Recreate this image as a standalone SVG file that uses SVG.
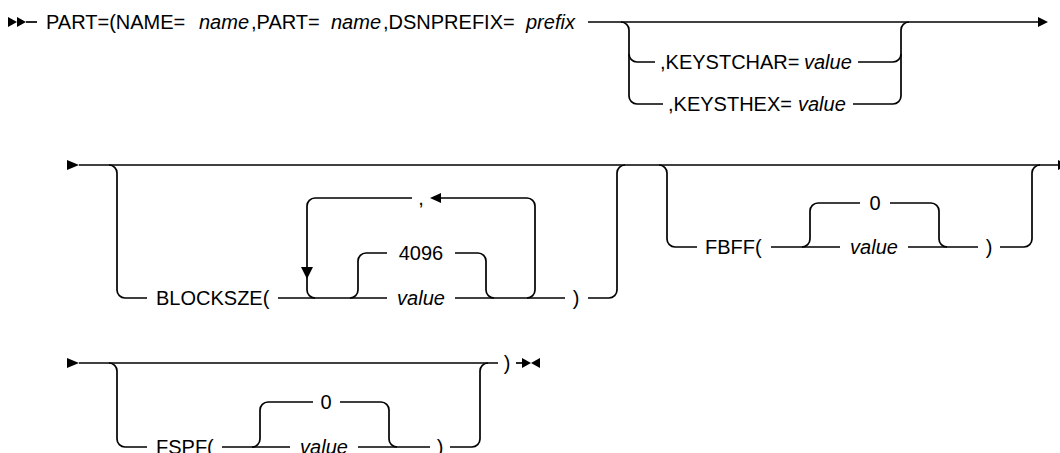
<svg xmlns="http://www.w3.org/2000/svg" width="1060" height="453" viewBox="0 0 1060 453">
<style>
.t{font-family:"Liberation Sans",Arial,sans-serif;font-size:20px;fill:#000}
.v{font-style:italic}
.m{text-anchor:middle}
.l{fill:none;stroke:#000;stroke-width:1.7}
.a{fill:#000}
</style>
<rect width="1060" height="453" fill="#fff"/>
<g id="connectors">
<polygon class="a" points="8,17 8,27 17,22"/>
<polygon class="a" points="17,17 17,27 26,22"/>
<path class="l" d="M26,22 H37"/>
<path class="l" d="M588,22 H1040"/>
<polygon class="a" points="1038,17 1048,22 1038,27"/>
<path class="l" d="M621,22 A8,8 0 0 1 629,30 V96 A8,8 0 0 0 637,104 H663"/>
<path class="l" d="M629,54 A8,8 0 0 0 637,62 H655"/>
<path class="l" d="M858,62 H893 A8,8 0 0 0 901,54 V30 A8,8 0 0 1 909,22"/>
<path class="l" d="M853,104 H893 A8,8 0 0 0 901,96 V54"/>
<polygon class="a" points="67,160 67,170 79,165"/>
<path class="l" d="M79,165 H1058"/>
<polygon class="a" points="1058,160 1058,170 1068,165"/>
<path class="l" d="M109,165 A8,8 0 0 1 117,173 V290 A8,8 0 0 0 125,298 H147"/>
<path class="l" d="M278,298 H387"/>
<path class="l" d="M455,298 H565"/>
<path class="l" d="M350,298 A8,8 0 0 0 358,290 V261 A8,8 0 0 1 366,253 H387"/>
<path class="l" d="M455,253 H478 A8,8 0 0 1 486,261 V290 A8,8 0 0 0 494,298"/>
<path class="l" d="M527,298 A8,8 0 0 0 535,290 V206 A8,8 0 0 0 527,198 H440"/>
<polygon class="a" points="430,198 441,193 441,203"/>
<path class="l" d="M412,198 H315 A8,8 0 0 0 307,206 V290 A8,8 0 0 0 315,298"/>
<polygon class="a" points="301,267 313,267 307,279"/>
<path class="l" d="M588,298 H609 A8,8 0 0 0 617,290 V173 A8,8 0 0 1 625,165"/>
<path class="l" d="M659,165 A8,8 0 0 1 667,173 V239 A8,8 0 0 0 675,247 H697"/>
<path class="l" d="M771,247 H840"/>
<path class="l" d="M802,247 A8,8 0 0 0 810,239 V211 A8,8 0 0 1 818,203 H860"/>
<path class="l" d="M890,203 H931 A8,8 0 0 1 939,211 V239 A8,8 0 0 0 947,247"/>
<path class="l" d="M908,247 H978"/>
<path class="l" d="M1000,247 H1024 A8,8 0 0 0 1032,239 V173 A8,8 0 0 1 1040,165"/>
<polygon class="a" points="67,358 67,368 79,363"/>
<path class="l" d="M79,363 H498"/>
<path class="l" d="M109,363 A8,8 0 0 1 117,371 V439 A8,8 0 0 0 125,447 H147"/>
<path class="l" d="M222,447 H290"/>
<path class="l" d="M252,447 A8,8 0 0 0 260,439 V410 A8,8 0 0 1 268,402 H313"/>
<path class="l" d="M340,402 H381 A8,8 0 0 1 389,410 V439 A8,8 0 0 0 397,447"/>
<path class="l" d="M358,447 H430"/>
<path class="l" d="M450,447 H472 A8,8 0 0 0 480,439 V371 A8,8 0 0 1 488,363"/>
<path class="l" d="M516,363 H524"/>
<polygon class="a" points="522,358 522,368 531,363"/>
<polygon class="a" points="540,358 540,368 531,363"/>
</g>
<g id="n-part">
<text class="t" y="29"><tspan x="46">PART=(NAME=</tspan><tspan x="199" class="v">name</tspan><tspan x="251">,PART=</tspan><tspan x="331" class="v">name</tspan><tspan x="383">,DSNPREFIX=</tspan><tspan x="526" class="v">prefix</tspan></text>
</g>
<g id="n-keystchar"><text class="t" y="69"><tspan x="660">,KEYSTCHAR=</tspan><tspan x="804" class="v">value</tspan></text></g>
<g id="n-keysthex"><text class="t" y="111"><tspan x="668">,KEYSTHEX=</tspan><tspan x="798" class="v">value</tspan></text></g>
<g id="n-blocksze"><text class="t" x="156" y="305">BLOCKSZE(</text></g>
<g id="n-4096"><text class="t m" x="421" y="260">4096</text></g>
<g id="n-bvalue"><text class="t v m" x="421" y="305">value</text></g>
<g id="n-comma"><text class="t m" x="421" y="205">,</text></g>
<g id="n-bclose"><text class="t m" x="576" y="305">)</text></g>
<g id="n-fbff"><text class="t" x="705" y="254">FBFF(</text></g>
<g id="n-f0"><text class="t m" x="875" y="210">0</text></g>
<g id="n-fvalue"><text class="t v m" x="874" y="254">value</text></g>
<g id="n-fclose"><text class="t m" x="989" y="254">)</text></g>
<g id="n-fspf"><text class="t" x="156" y="454">FSPF(</text></g>
<g id="n-s0"><text class="t m" x="326" y="409">0</text></g>
<g id="n-svalue"><text class="t v m" x="324" y="454">value</text></g>
<g id="n-sclose"><text class="t m" x="440" y="454">)</text></g>
<g id="n-end"><text class="t m" x="507" y="370">)</text></g>
</svg>
